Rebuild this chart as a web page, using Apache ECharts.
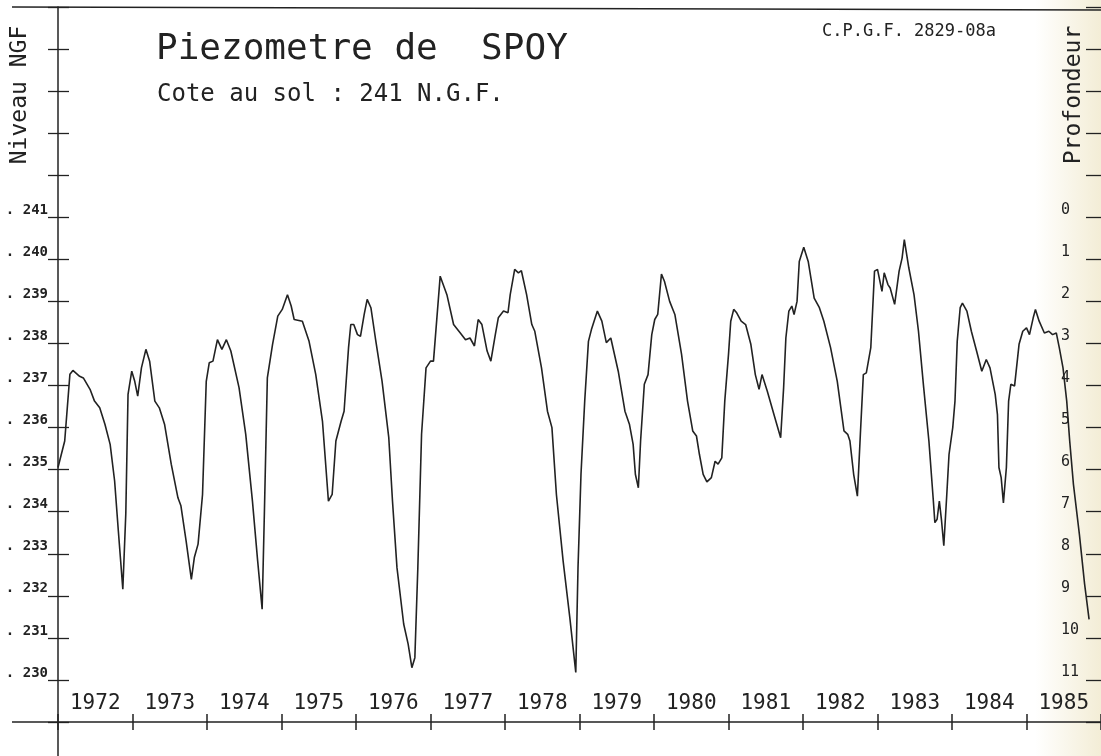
<!DOCTYPE html>
<html>
<head>
<meta charset="utf-8">
<title>Piezometre de SPOY</title>
<script src="https://cdn.jsdelivr.net/npm/echarts/dist/echarts.min.js"></script>
<style>
  html, body { margin: 0; padding: 0; background: #fff; }
  #chart { width: 1101px; height: 756px; }
</style>
</head>
<body>
<div id="chart"></div>
<script>
// years shown under the curve
const years = ['1972', '1973', '1974', '1975', '1976', '1977', '1978',
               '1979', '1980', '1981', '1982', '1983', '1984', '1985'];

// ground level (m NGF) - depth = coteSol - level
const coteSol = 241;

// dates (decimal years)
const dates = [
  1972.00, 1972.09, 1972.16, 1972.20, 1972.29, 1972.34, 1972.43, 1972.49, 1972.56, 1972.63,
  1972.70, 1972.76, 1972.81, 1972.87, 1972.91, 1972.94, 1972.99, 1973.03, 1973.07, 1973.12,
  1973.18, 1973.23, 1973.30, 1973.36, 1973.43, 1973.52, 1973.61, 1973.65, 1973.72, 1973.79,
  1973.83, 1973.88, 1973.94, 1973.99, 1974.03, 1974.08, 1974.14, 1974.20, 1974.26, 1974.32,
  1974.43, 1974.52, 1974.61, 1974.68, 1974.74, 1974.77, 1974.81, 1974.88, 1974.95, 1975.01,
  1975.08, 1975.13, 1975.17, 1975.28, 1975.37, 1975.46, 1975.55, 1975.63, 1975.68, 1975.73,
  1975.80, 1975.84, 1975.90, 1975.93, 1975.97, 1976.02, 1976.06, 1976.11, 1976.15, 1976.20,
  1976.26, 1976.35, 1976.44, 1976.49, 1976.55, 1976.64, 1976.70, 1976.75, 1976.79, 1976.83,
  1976.88, 1976.94, 1977.00, 1977.04, 1977.13, 1977.22, 1977.31, 1977.40, 1977.47, 1977.53,
  1977.59, 1977.64, 1977.69, 1977.76, 1977.81, 1977.87, 1977.91, 1977.98, 1978.04, 1978.07,
  1978.13, 1978.18, 1978.22, 1978.29, 1978.36, 1978.40, 1978.49, 1978.57, 1978.63, 1978.69,
  1978.78, 1978.87, 1978.95, 1978.98, 1979.02, 1979.07, 1979.12, 1979.16, 1979.24, 1979.30,
  1979.36, 1979.42, 1979.52, 1979.61, 1979.67, 1979.72, 1979.75, 1979.79, 1979.82, 1979.87,
  1979.92, 1979.97, 1980.01, 1980.05, 1980.10, 1980.14, 1980.21, 1980.28, 1980.37, 1980.45,
  1980.52, 1980.57, 1980.61, 1980.66, 1980.71, 1980.77, 1980.82, 1980.86, 1980.91, 1980.95,
  1981.00, 1981.03, 1981.07, 1981.11, 1981.17, 1981.23, 1981.30, 1981.36, 1981.41, 1981.45,
  1981.52, 1981.61, 1981.70, 1981.74, 1981.77, 1981.81, 1981.85, 1981.88, 1981.92, 1981.95,
  1982.01, 1982.07, 1982.15, 1982.22, 1982.28, 1982.37, 1982.46, 1982.55, 1982.60, 1982.63,
  1982.68, 1982.73, 1982.77, 1982.81, 1982.85, 1982.91, 1982.96, 1983.00, 1983.06, 1983.09,
  1983.14, 1983.17, 1983.23, 1983.29, 1983.33, 1983.36, 1983.42, 1983.49, 1983.55, 1983.62,
  1983.69, 1983.75, 1983.77, 1983.80, 1983.83, 1983.86, 1983.89, 1983.93, 1983.96, 1984.01,
  1984.04, 1984.07, 1984.11, 1984.14, 1984.20, 1984.26, 1984.33, 1984.40, 1984.46, 1984.51,
  1984.58, 1984.61, 1984.63, 1984.66, 1984.69, 1984.73, 1984.76, 1984.79, 1984.84, 1984.90,
  1984.95, 1985.00, 1985.04, 1985.09, 1985.12, 1985.17, 1985.24, 1985.30, 1985.35, 1985.40,
  1985.44, 1985.49, 1985.54, 1985.58, 1985.63, 1985.71, 1985.78, 1985.84
];

// water level (m NGF)
const niveau = [
  235.05, 235.68, 237.27, 237.36, 237.22, 237.18, 236.91, 236.63, 236.47, 236.08,
  235.60, 234.73, 233.54, 232.16, 233.95, 236.79, 237.34, 237.10, 236.75, 237.42,
  237.86, 237.58, 236.63, 236.47, 236.08, 235.13, 234.33, 234.14, 233.30, 232.39,
  232.91, 233.23, 234.41, 237.10, 237.54, 237.58, 238.09, 237.86, 238.09, 237.82,
  236.95, 235.84, 234.25, 232.83, 231.68, 233.95, 237.18, 237.98, 238.65, 238.81,
  239.16, 238.89, 238.57, 238.53, 238.05, 237.26, 236.15, 234.25, 234.41, 235.68,
  236.15, 236.39, 237.90, 238.45, 238.45, 238.21, 238.17, 238.69, 239.05, 238.85,
  238.13, 237.10, 235.76, 234.25, 232.67, 231.33, 230.85, 230.29, 230.53, 232.67,
  235.84, 237.42, 237.58, 237.58, 239.60, 239.16, 238.45, 238.25, 238.09, 238.13,
  237.94, 238.57, 238.45, 237.82, 237.58, 238.21, 238.61, 238.77, 238.73, 239.16,
  239.76, 239.68, 239.73, 239.16, 238.45, 238.29, 237.42, 236.39, 236.00, 234.41,
  232.83, 231.48, 230.18, 232.67, 234.89, 236.63, 238.05, 238.33, 238.77, 238.53,
  238.02, 238.13, 237.34, 236.39, 236.08, 235.60, 234.89, 234.57, 235.68, 237.03,
  237.26, 238.21, 238.57, 238.69, 239.65, 239.48, 239.00, 238.69, 237.74, 236.63,
  235.92, 235.80, 235.36, 234.89, 234.71, 234.81, 235.20, 235.13, 235.28, 236.63,
  237.74, 238.53, 238.81, 238.73, 238.53, 238.45, 237.98, 237.26, 236.91, 237.26,
  236.87, 236.31, 235.76, 236.95, 238.13, 238.77, 238.89, 238.69, 239.00, 239.95,
  240.29, 239.95, 239.08, 238.85, 238.53, 237.90, 237.10, 235.92, 235.84, 235.68,
  234.89, 234.37, 235.84, 237.26, 237.30, 237.90, 239.72, 239.76, 239.24, 239.68,
  239.40, 239.32, 238.93, 239.72, 240.03, 240.47, 239.80, 239.16, 238.29, 236.95,
  235.68, 234.25, 233.74, 233.82, 234.25, 233.78, 233.19, 234.41, 235.36, 236.00,
  236.63, 238.05, 238.85, 238.96, 238.77, 238.29, 237.82, 237.34, 237.62, 237.42,
  236.79, 236.31, 235.05, 234.81, 234.21, 235.05, 236.63, 237.03, 236.99, 237.98,
  238.29, 238.37, 238.21, 238.61, 238.81, 238.53, 238.25, 238.29, 238.21, 238.25,
  237.90, 237.42, 236.63, 235.68, 234.65, 233.46, 232.28, 231.44
];

const ink = '#222';
const mono = '"DejaVu Sans Mono", monospace';

var chart = echarts.init(document.getElementById('chart'));

// same box for every grid, so the scales line up
var box = { left: 58, right: -4, top: 7, bottom: 34 };

var option = {
  backgroundColor: '#fff',
  animation: false,
  grid: [
    Object.assign({}, box),
    Object.assign({}, box),
    Object.assign({}, box)
  ],
  xAxis: [
    { // data axis: line + ticks below
      type: 'value', gridIndex: 0, min: 1972, max: 1986, interval: 1,
      axisLine: { show: true, lineStyle: { color: ink, width: 1.5 } },
      axisTick: { show: true, length: 8, lineStyle: { color: ink, width: 1.5 } },
      axisLabel: { show: false },
      splitLine: { show: false }
    },
    { // ticks above the line
      type: 'value', gridIndex: 1, min: 1972, max: 1986, interval: 1,
      axisLine: { show: false },
      axisTick: { show: true, inside: true, length: 8, lineStyle: { color: ink, width: 1.5 } },
      axisLabel: { show: false },
      splitLine: { show: false }
    },
    { // year names in the middle of each year
      type: 'category', gridIndex: 2, data: years, boundaryGap: true,
      axisLine: { show: false },
      axisTick: { show: false },
      axisLabel: {
        inside: true, margin: 8, color: ink,
        fontFamily: mono, fontSize: 21
      },
      splitLine: { show: false }
    }
  ],
  yAxis: [
    { // niveau NGF
      type: 'value', gridIndex: 0, min: 229, max: 246, interval: 1,
      axisLine: { show: true, lineStyle: { color: ink, width: 1.5 } },
      axisTick: { show: true, length: 10, lineStyle: { color: ink, width: 1.3 } },
      axisLabel: {
        formatter: function (v) { return (v >= 230 && v <= coteSol) ? '. ' + v : ''; },
        margin: 10, color: ink, fontFamily: mono, fontSize: 14, fontWeight: 'bold',
        verticalAlign: 'bottom'
      },
      splitLine: { show: false }
    },
    {
      type: 'value', gridIndex: 1, min: 229, max: 246, interval: 1,
      axisLine: { show: false },
      axisTick: { show: true, inside: true, length: 11, lineStyle: { color: ink, width: 1.3 } },
      axisLabel: { show: false },
      splitLine: { show: false }
    },
    { // profondeur, measured down from the ground
      type: 'value', gridIndex: 2, position: 'right', inverse: true,
      min: coteSol - 246, max: coteSol - 229, interval: 1,
      axisLine: { show: false },
      axisTick: { show: true, inside: true, length: 15, lineStyle: { color: ink, width: 1.3 } },
      axisLabel: {
        inside: true, margin: 40, align: 'left', verticalAlign: 'bottom',
        formatter: function (v) { return (v >= 0 && v <= 11) ? String(v) : ''; },
        color: ink, fontFamily: mono, fontSize: 15
      },
      splitLine: { show: false }
    }
  ],
  graphic: [
    { // scan tint on the right edge
      type: 'rect', z: -10, silent: true,
      shape: { x: 1035, y: 0, width: 66, height: 756 },
      style: {
        fill: new echarts.graphic.LinearGradient(0, 0, 1, 0, [
          { offset: 0, color: 'rgba(243,237,214,0)' },
          { offset: 1, color: 'rgba(243,237,214,1)' }
        ])
      }
    },
    { type: 'line', shape: { x1: 12, y1: 7, x2: 1101, y2: 10 }, style: { stroke: ink, lineWidth: 1.5 } },
    { type: 'line', shape: { x1: 12, y1: 722, x2: 58, y2: 722 }, style: { stroke: ink, lineWidth: 1.5 } },
    { type: 'line', shape: { x1: 58, y1: 722, x2: 58, y2: 756 }, style: { stroke: ink, lineWidth: 1.5 } },
    {
      type: 'text', x: 156, y: 32,
      style: { text: 'Piezometre de  SPOY', fill: ink, font: '36px ' + mono, verticalAlign: 'top' }
    },
    {
      type: 'text', x: 157, y: 83,
      style: { text: 'Cote au sol : 241 N.G.F.', fill: ink, font: '24px ' + mono, verticalAlign: 'top' }
    },
    {
      type: 'text', x: 822, y: 23,
      style: { text: 'C.P.G.F. 2829-08a', fill: ink, font: '17px ' + mono, verticalAlign: 'top' }
    },
    {
      type: 'text', x: 20, y: 95, rotation: Math.PI / 2,
      style: { text: 'Niveau NGF', fill: ink, font: '23px ' + mono, align: 'center', verticalAlign: 'middle' }
    },
    {
      type: 'text', x: 1074, y: 95, rotation: Math.PI / 2,
      style: { text: 'Profondeur', fill: ink, font: '23px ' + mono, align: 'center', verticalAlign: 'middle' }
    }
  ],
  series: [
    {
      name: 'Niveau',
      type: 'line',
      xAxisIndex: 0,
      yAxisIndex: 0,
      showSymbol: false,
      lineStyle: { color: ink, width: 1.6 },
      data: dates.map(function (d, i) { return [d, niveau[i]]; })
    }
  ]
};

chart.setOption(option);
</script>
</body>
</html>
